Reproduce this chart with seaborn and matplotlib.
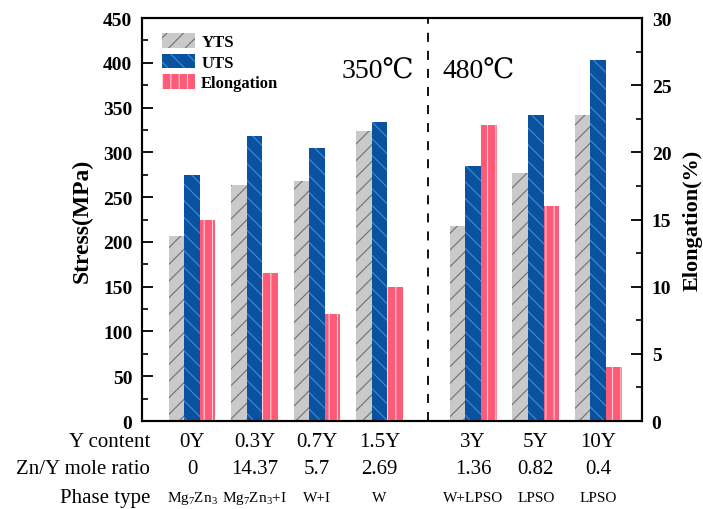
import matplotlib
matplotlib.use("Agg")
import matplotlib.pyplot as plt
import seaborn as sns
import pandas as pd
from matplotlib.patches import Patch

# ---- data ----
y_content = ["0Y", "0.3Y", "0.7Y", "1.5Y", "3Y", "5Y", "10Y"]
zn_y_ratio = ["0", "14.37", "5.7", "2.69", "1.36", "0.82", "0.4"]
phase_type = [r"Mg$_7$Zn$_3$", r"Mg$_7$Zn$_3$+I", "W+I", "W", "W+LPSO", "LPSO", "LPSO"]
yts = [207, 263, 268, 324, 218, 277, 342]
uts = [275, 318, 305, 334, 285, 342, 403]
elongation = [15, 11, 8, 10, 22, 16, 4]
group_pos = [0, 1, 2, 3, 4.5, 5.5, 6.5]

sns.set_style("ticks")
plt.rcParams["font.family"] = ["Liberation Serif", "DejaVu Serif"]
plt.rcParams["mathtext.fontset"] = "custom"
plt.rcParams["mathtext.rm"] = "Liberation Serif"
plt.rcParams["mathtext.it"] = "Liberation Serif:italic"
plt.rcParams["mathtext.default"] = "regular"
plt.rcParams["hatch.linewidth"] = 0.8
plt.rcParams["text.color"] = "black"
plt.rcParams["axes.labelcolor"] = "black"
plt.rcParams["ytick.color"] = "black"
plt.rcParams["xtick.color"] = "black"

fig = plt.figure(figsize=(7.03, 5.10), dpi=100)
ax = fig.add_axes([0.2020, 0.1725, 0.7112, 0.7902])
ax2 = ax.twinx()

c_yts, h_yts = "#c9c9c9", "#6f6f6f"
c_uts, h_uts = "#0a52a0", "#3d8fd6"
c_el, h_el = "#ff5b78", "#ffd0d8"

df_yts = pd.DataFrame({"x": [p - 0.25 for p in group_pos], "v": yts})
df_uts = pd.DataFrame({"x": list(group_pos), "v": uts})
df_el = pd.DataFrame({"x": [p + 0.25 for p in group_pos], "v": elongation})

def draw(df, axis, fc, hc, hatch):
    before = len(axis.patches)
    sns.barplot(data=df, x="x", y="v", ax=axis, native_scale=True, width=0.25,
                color=fc, saturation=1, errorbar=None)
    for p in axis.patches[before:]:
        p.set_facecolor(fc)
        p.set_edgecolor(hc)
        p.set_hatch(hatch)
        p.set_linewidth(0)

draw(df_yts, ax, c_yts, h_yts, "//")
draw(df_uts, ax, c_uts, h_uts, "\\\\")
draw(df_el, ax2, c_el, h_el, "||")

ax.set_xlim(-0.80, 7.20)
ax.set_ylim(0, 450)
ax2.set_ylim(0, 30)
ax.set_xticks([])
ax2.set_xticks([])
ax.set_xlabel("")
ax2.set_xlabel("")

ax.set_yticks(range(0, 451, 50))
ax.set_yticks(range(25, 450, 50), minor=True)
ax2.set_yticks(range(0, 31, 5))
ax2.set_yticks([2.5, 7.5, 12.5, 17.5, 22.5, 27.5], minor=True)

for a in (ax, ax2):
    a.tick_params(axis="y", which="major", direction="in", length=8, width=1.3,
                  labelsize=14, pad=7)
    a.tick_params(axis="y", which="minor", direction="in", length=4.5, width=1.2)
    for lab in a.get_yticklabels():
        lab.set_fontweight("bold")
    for s in a.spines.values():
        s.set_linewidth(1.5)
        s.set_color("black")

ax.set_ylabel("Stress(MPa)", fontsize=17, fontweight="bold", labelpad=7)
ax2.set_ylabel("Elongation(%)", fontsize=16, fontweight="bold", labelpad=8)
ax2.yaxis.set_label_position("right")

ax.axvline(3.77, color="black", lw=1.3, ls=(0, (5, 5)))

ax.text(2.98, 0.868, "350\u2103", transform=ax.get_xaxis_transform(),
        ha="center", va="center", fontsize=20)
ax.text(4.58, 0.868, "480\u2103", transform=ax.get_xaxis_transform(),
        ha="center", va="center", fontsize=20)

handles = [Patch(facecolor=c_yts, edgecolor=h_yts, hatch="//", linewidth=0, label="YTS"),
           Patch(facecolor=c_uts, edgecolor=h_uts, hatch="\\\\", linewidth=0, label="UTS"),
           Patch(facecolor=c_el, edgecolor=h_el, hatch="||", linewidth=0, label="Elongation")]
ax.legend(handles=handles, loc="upper left", bbox_to_anchor=(0.01, 1.0), frameon=False,
          prop={"weight": "bold", "size": 12}, handlelength=2.0, handleheight=1.0,
          labelspacing=0.2, handletextpad=0.35)

tr = ax.get_xaxis_transform()
rows = [("Y content", y_content, -0.052, 15),
        ("Zn/Y mole ratio", zn_y_ratio, -0.119, 15),
        ("Phase type", phase_type, -0.189, 11)]
for label, vals, yy, fs in rows:
    ax.text(-0.67, yy, label, transform=tr, ha="right", va="center", fontsize=15,
            clip_on=False)
    for p, v in zip(group_pos, vals):
        ax.text(p, yy, v, transform=tr, ha="center", va="center", fontsize=fs,
                clip_on=False)

fig.savefig("out.png", dpi=100)
